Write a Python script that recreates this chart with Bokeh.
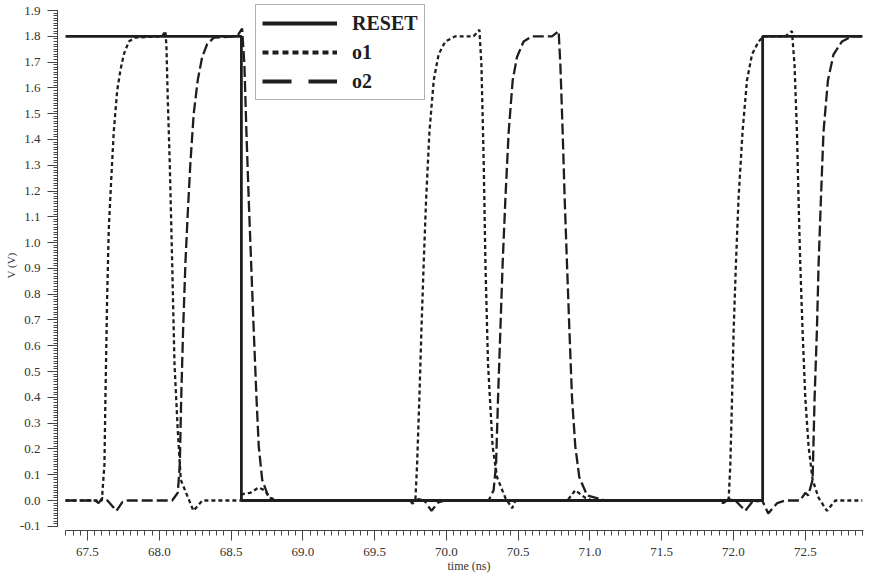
import numpy as np
from bokeh.plotting import figure
from bokeh.models import Range1d, FixedTicker, PrintfTickFormatter, Legend, LegendItem
from bokeh.embed import file_html
from bokeh.resources import INLINE

# ---------------- data ----------------
reset_t = [67.347, 68.572, 68.572, 72.203, 72.203, 72.897]
reset_v = [1.80, 1.80, 0.00, 0.00, 1.80, 1.80]

o1_t = [67.347, 67.600, 67.618, 67.625, 67.637, 67.648, 67.665, 67.683, 67.707, 67.730,
        67.753, 67.788, 67.834, 68.020, 68.043, 68.050, 68.059, 68.073, 68.090, 68.106,
        68.129, 68.150, 68.238, 68.300, 68.572, 68.579, 68.635, 68.691, 68.733, 68.774,
        68.830, 69.784, 69.796, 69.812, 69.826, 69.842, 69.859, 69.882, 69.912, 69.946,
        69.993, 70.063, 70.190, 70.230, 70.244, 70.260, 70.272, 70.290, 70.322, 70.353,
        70.411, 70.458, 70.481, 70.843, 70.898, 70.968, 71.017, 71.966, 71.978, 71.990,
        72.001, 72.017, 72.035, 72.063, 72.094, 72.129, 72.175, 72.210, 72.361, 72.407,
        72.425, 72.442, 72.453, 72.465, 72.481, 72.500, 72.523, 72.551, 72.593, 72.651,
        72.709, 72.897]
o1_v = [0.00, 0.00, 0.14, 0.40, 0.79, 1.05, 1.24, 1.43, 1.59, 1.67,
        1.73, 1.78, 1.795, 1.80, 1.82, 1.76, 1.56, 1.31, 0.92, 0.53,
        0.27, 0.08, -0.04, 0.00, 0.00, 0.025, 0.03, 0.05, 0.04, 0.01,
        0.00, 0.00, 0.14, 0.40, 0.66, 0.92, 1.17, 1.43, 1.63, 1.73,
        1.78, 1.80, 1.80, 1.825, 1.69, 1.31, 0.92, 0.53, 0.21, 0.09,
        0.01, -0.03, 0.00, 0.00, 0.04, 0.01, 0.00, 0.00, 0.14, 0.40,
        0.66, 0.92, 1.17, 1.43, 1.63, 1.73, 1.78, 1.80, 1.80, 1.82,
        1.69, 1.43, 1.17, 0.92, 0.66, 0.40, 0.21, 0.08, 0.01, -0.04,
        0.00, 0.00]

o2_t = [67.347, 67.556, 67.577, 67.604, 67.639, 67.702, 67.744, 67.779, 68.090, 68.129,
        68.143, 68.153, 68.166, 68.182, 68.198, 68.217, 68.240, 68.268, 68.299, 68.334,
        68.380, 68.542, 68.577, 68.593, 68.607, 68.623, 68.640, 68.658, 68.677, 68.693,
        68.717, 68.763, 68.809, 69.749, 69.763, 69.805, 69.847, 69.896, 69.944, 69.993,
        70.295, 70.329, 70.346, 70.360, 70.376, 70.392, 70.411, 70.434, 70.462, 70.492,
        70.538, 70.597, 70.736, 70.782, 70.794, 70.810, 70.824, 70.840, 70.857, 70.875,
        70.898, 70.926, 70.980, 71.107, 71.900, 71.929, 71.964, 72.013, 72.082, 72.131,
        72.200, 72.242, 72.305, 72.361, 72.465, 72.500, 72.521, 72.551, 72.565, 72.581,
        72.593, 72.609, 72.627, 72.658, 72.697, 72.756, 72.825, 72.897]
o2_v = [0.00, 0.00, -0.01, 0.01, 0.00, -0.04, -0.005, 0.00, 0.00, 0.03,
        0.14, 0.40, 0.66, 0.92, 1.11, 1.31, 1.50, 1.63, 1.72, 1.77,
        1.795, 1.80, 1.83, 1.69, 1.43, 1.17, 0.92, 0.66, 0.40, 0.21,
        0.08, 0.01, 0.00, 0.00, -0.012, 0.005, 0.00, -0.04, -0.007, 0.00,
        0.00, 0.04, 0.14, 0.40, 0.66, 0.92, 1.17, 1.43, 1.63, 1.72,
        1.78, 1.80, 1.80, 1.82, 1.69, 1.43, 1.17, 0.92, 0.66, 0.40,
        0.21, 0.09, 0.02, 0.00, 0.00, -0.01, 0.005, 0.00, -0.04, -0.005,
        0.00, -0.05, -0.01, 0.00, 0.00, 0.03, 0.02, 0.08, 0.40, 0.66,
        0.92, 1.17, 1.43, 1.63, 1.73, 1.78, 1.80, 1.80]

x_ticks = [67.5, 68.0, 68.5, 69.0, 69.5, 70.0, 70.5, 71.0, 71.5, 72.0, 72.5]
y_ticks = [-0.1, 0.0, 0.1, 0.2, 0.3, 0.4, 0.5, 0.6, 0.7, 0.8, 0.9,
           1.0, 1.1, 1.2, 1.3, 1.4, 1.5, 1.6, 1.7, 1.8, 1.9]
series_labels = ["RESET", "o1", "o2"]

# ---------------- figure ----------------
INK = "#1e1e1e"
SERIF = "Liberation Serif"

p = figure(frame_width=823, frame_height=530,
           x_range=Range1d(67.2911, 73.0240), y_range=Range1d(-0.1163, 1.9388),
           output_backend="svg", toolbar_location=None,
           min_border_left=57, min_border_right=0, min_border_top=0, min_border_bottom=0,
           background_fill_color="white", border_fill_color="white")
p.outline_line_color = None
p.grid.visible = False

r_o1 = p.line(o1_t, o1_v, line_color=INK, line_width=2.3, line_dash="4 3")
r_o2 = p.line(o2_t, o2_v, line_color=INK, line_width=2.3, line_dash="11 4")
r_reset = p.line(reset_t, reset_v, line_color=INK, line_width=2.8)

# legend samples (a single NaN point: nothing drawn in the plot, only the legend glyph)
l_reset = p.line([np.nan], [np.nan], line_color=INK, line_width=4)
l_o1 = p.line([np.nan], [np.nan], line_color=INK, line_width=4, line_dash="6 4")
l_o2 = p.line([np.nan], [np.nan], line_color=INK, line_width=4, line_dash="29 17")

legend = Legend(items=[LegendItem(label=series_labels[0], renderers=[l_reset]),
                       LegendItem(label=series_labels[1], renderers=[l_o1]),
                       LegendItem(label=series_labels[2], renderers=[l_o2])],
                location=(198, 430))
legend.glyph_width = 75
legend.glyph_height = 24
legend.label_height = 24
legend.label_standoff = 15
legend.spacing = 5
legend.padding = 6
legend.margin = 0
legend.border_line_color = "#666666"
legend.border_line_width = 1
legend.background_fill_color = "white"
legend.background_fill_alpha = 1.0
legend.label_text_font = SERIF
legend.label_text_font_style = "bold"
legend.label_text_font_size = "20px"
legend.label_text_color = INK
p.add_layout(legend)

# ---------------- axes ----------------
xminor = list(np.round(np.arange(67.35, 72.91, 0.05), 3))
yminor = list(np.round(np.arange(-0.10, 1.901, 0.01), 3))

xa = p.xaxis[0]
xa.ticker = FixedTicker(ticks=x_ticks, minor_ticks=xminor)
xa.formatter = PrintfTickFormatter(format="%.1f")
xa.bounds = (67.347, 72.904)
xa.axis_label = "time (ns)"
xa.axis_label_standoff = 0
xa.axis_label_text_font = SERIF
xa.axis_label_text_font_style = "normal"
xa.axis_label_text_font_size = "12px"
xa.axis_label_text_color = "#333333"
xa.major_label_text_font = SERIF
xa.major_label_text_font_size = "13px"
xa.major_label_text_color = "#333333"
xa.major_label_standoff = 7
xa.major_tick_out = 10
xa.major_tick_in = 0
xa.minor_tick_out = 5
xa.minor_tick_in = 0
xa.axis_line_color = "#444444"
xa.major_tick_line_color = "#444444"
xa.minor_tick_line_color = "#444444"

ya = p.yaxis[0]
ya.ticker = FixedTicker(ticks=y_ticks, minor_ticks=yminor)
ya.formatter = PrintfTickFormatter(format="%.1f")
ya.bounds = (-0.1, 1.9)
ya.axis_label = "V (V)"
ya.axis_label_standoff = 0
ya.axis_label_text_font = SERIF
ya.axis_label_text_font_style = "normal"
ya.axis_label_text_font_size = "11px"
ya.axis_label_text_color = "#333333"
ya.major_label_text_font = SERIF
ya.major_label_text_font_size = "13px"
ya.major_label_text_color = "#333333"
ya.major_label_standoff = 7
ya.major_tick_out = 10
ya.major_tick_in = 0
ya.minor_tick_out = 4
ya.minor_tick_in = 0
ya.axis_line_color = "#444444"
ya.major_tick_line_color = "#444444"
ya.minor_tick_line_color = "#444444"

open("out.html", "w").write(file_html(p, INLINE))
